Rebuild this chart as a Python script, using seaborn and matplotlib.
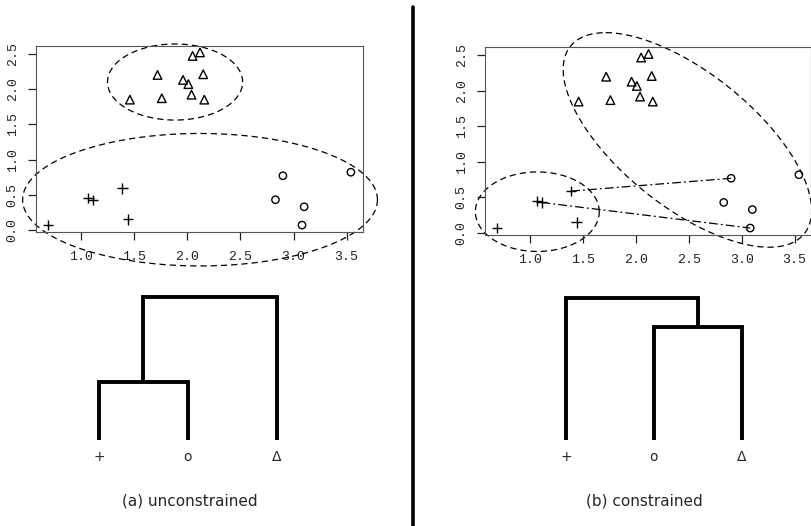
import numpy as np
import pandas as pd
import matplotlib
matplotlib.use("Agg")
import matplotlib.pyplot as plt
import seaborn as sns
from matplotlib.lines import Line2D

# --- data ------------------------------------------------------------------
# the same observations are shown in both panels
cross_x = [0.69, 1.07, 1.11, 1.39, 1.44]
cross_y = [0.07, 0.45, 0.43, 0.59, 0.15]
circle_x = [2.83, 2.90, 3.10, 3.08, 3.54]
circle_y = [0.43, 0.77, 0.33, 0.07, 0.82]
tri_x = [2.05, 2.12, 1.72, 2.15, 1.96, 2.01, 1.46, 1.76, 2.04, 2.16]
tri_y = [2.47, 2.52, 2.20, 2.21, 2.13, 2.07, 1.85, 1.87, 1.92, 1.85]

classes = ["+", "o", "Δ"]
x_ticks = [1.0, 1.5, 2.0, 2.5, 3.0, 3.5]
y_ticks = [0.0, 0.5, 1.0, 1.5, 2.0, 2.5]

# cluster ellipses: centre and two conjugate semi-axis vectors (data units)
unc_centres = [(1.885, 2.10), (2.12, 0.43)]
unc_axis1 = [(0.636, 0.0), (1.67, 0.0)]
unc_axis2 = [(0.0, 0.54), (0.0, 0.94)]
con_centres = [(1.07, 0.30), (2.487, 1.31)]
con_axis1 = [(0.585, 0.0), (-0.771, 1.51)]
con_axis2 = [(0.0, 0.56), (0.884, 0.0)]

# constraint links: (cross index, circle index)
links = [(3, 1), (2, 3)]

# dendrograms: merges as [child_a, child_b, height]; new nodes numbered from 3
leaf_labels = ["+", "o", "Δ"]
unc_merges = [[0, 1, 58], [3, 2, 143]]
con_merges = [[1, 2, 113], [0, 3, 142]]

captions = ["(a) unconstrained", "(b) constrained"]

# --- frame ------------------------------------------------------------------
points = pd.DataFrame({
    "x": cross_x + circle_x + tri_x,
    "y": cross_y + circle_y + tri_y,
    "cls": ["+"] * len(cross_x) + ["o"] * len(circle_x) + ["Δ"] * len(tri_x),
})
marker_map = {"+": "+", "o": "o", "Δ": "^"}
size_map = {"+": 55, "o": 28, "Δ": 38}

sns.set_style("white")
plt.rcParams["font.family"] = ["DejaVu Sans"]

W, H = 812, 526
TICK_PX = 8
fig = plt.figure(figsize=(W / 100, H / 100), dpi=100)


def px_axes(left, top, right, bottom):
    return fig.add_axes([left / W, 1 - bottom / H, (right - left) / W, (bottom - top) / H])


def r_range(vals):
    # R's default 4% padding
    lo, hi = min(vals), max(vals)
    pad = 0.04 * (hi - lo)
    return lo - pad, hi + pad


def draw_scatter(ax, centres, axis1, axis2, with_links):
    for cls in classes:
        sub = points[points["cls"] == cls]
        sns.scatterplot(data=sub, x="x", y="y", marker=marker_map[cls],
                        s=size_map[cls], color="black", linewidth=1.0,
                        legend=False, ax=ax, clip_on=False, zorder=3)
    for coll in ax.collections:
        coll.set_facecolor("none")
        coll.set_edgecolor("black")

    t = np.linspace(0, 2 * np.pi, 300)
    for c, a, b in zip(centres, axis1, axis2):
        ex = c[0] + a[0] * np.cos(t) + b[0] * np.sin(t)
        ey = c[1] + a[1] * np.cos(t) + b[1] * np.sin(t)
        ax.plot(ex, ey, color="black", lw=0.9, dashes=(5, 3.2), clip_on=False)

    if with_links:
        for i, j in links:
            ax.plot([cross_x[i], circle_x[j]], [cross_y[i], circle_y[j]],
                    color="black", lw=0.9, dashes=(7, 2.5, 1.5, 2.5))

    ax.set_xlim(*r_range(points["x"]))
    ax.set_ylim(*r_range(points["y"]))
    ax.set_xticks(x_ticks)
    ax.set_yticks(y_ticks)
    ax.set_xticklabels([f"{v:.1f}" for v in x_ticks], family="Liberation Mono",
                       fontsize=9.5, color="#222222")
    ax.set_yticklabels([f"{v:.1f}" for v in y_ticks], family="Liberation Mono",
                       fontsize=9.5, color="#222222", rotation=90, va="center")
    ax.set_xlabel("")
    ax.set_ylabel("")
    ax.tick_params(length=0)
    ax.tick_params(axis="x", pad=13.5)
    ax.tick_params(axis="y", pad=12.5)
    for sp in ax.spines.values():
        sp.set_visible(True)
        sp.set_color("#555555")
        sp.set_linewidth(0.8)

    # R-style outward tick marks, drawn as plain line collections
    pos = ax.get_position()
    ax.vlines(x_ticks, -TICK_PX / (pos.height * H), 0,
              transform=ax.get_xaxis_transform(), color="#222222",
              lw=0.9, clip_on=False)
    ax.hlines(y_ticks, -TICK_PX / (pos.width * W), 0,
              transform=ax.get_yaxis_transform(), color="#222222",
              lw=0.9, clip_on=False)


def draw_dendrogram(ax, merges):
    xs = [1.0, 2.0, 3.0]
    hs = [0.0, 0.0, 0.0]
    for a, b, h in merges:
        ax.plot([xs[a], xs[a], xs[b], xs[b]], [hs[a], h, h, hs[b]],
                color="black", lw=2.8, solid_joinstyle="miter",
                solid_capstyle="butt")
        xs.append((xs[a] + xs[b]) / 2)
        hs.append(h)
    for k, lab in enumerate(leaf_labels):
        ax.text(k + 1, -17, lab, ha="center", va="center", fontsize=10)
    ax.set_xlim(0.5, 3.5)
    ax.set_ylim(0, 150)
    ax.axis("off")


ax_a = px_axes(36, 45.5, 363, 232)
draw_scatter(ax_a, unc_centres, unc_axis1, unc_axis2, False)
ax_b = px_axes(485, 47, 811, 235)
draw_scatter(ax_b, con_centres, con_axis1, con_axis2, True)

dn_a = px_axes(54.5, 290, 321.5, 440)
draw_dendrogram(dn_a, unc_merges)
dn_b = px_axes(522, 290, 785.5, 440)
draw_dendrogram(dn_b, con_merges)

fig.text(190 / W, 1 - 501 / H, captions[0], ha="center", va="center", fontsize=11)
fig.text(644.5 / W, 1 - 501 / H, captions[1], ha="center", va="center", fontsize=11)

fig.add_artist(Line2D([413.5 / W] * 2, [0, 1 - 7 / H], color="black", lw=2.6))

fig.savefig("out.png", dpi=100)
